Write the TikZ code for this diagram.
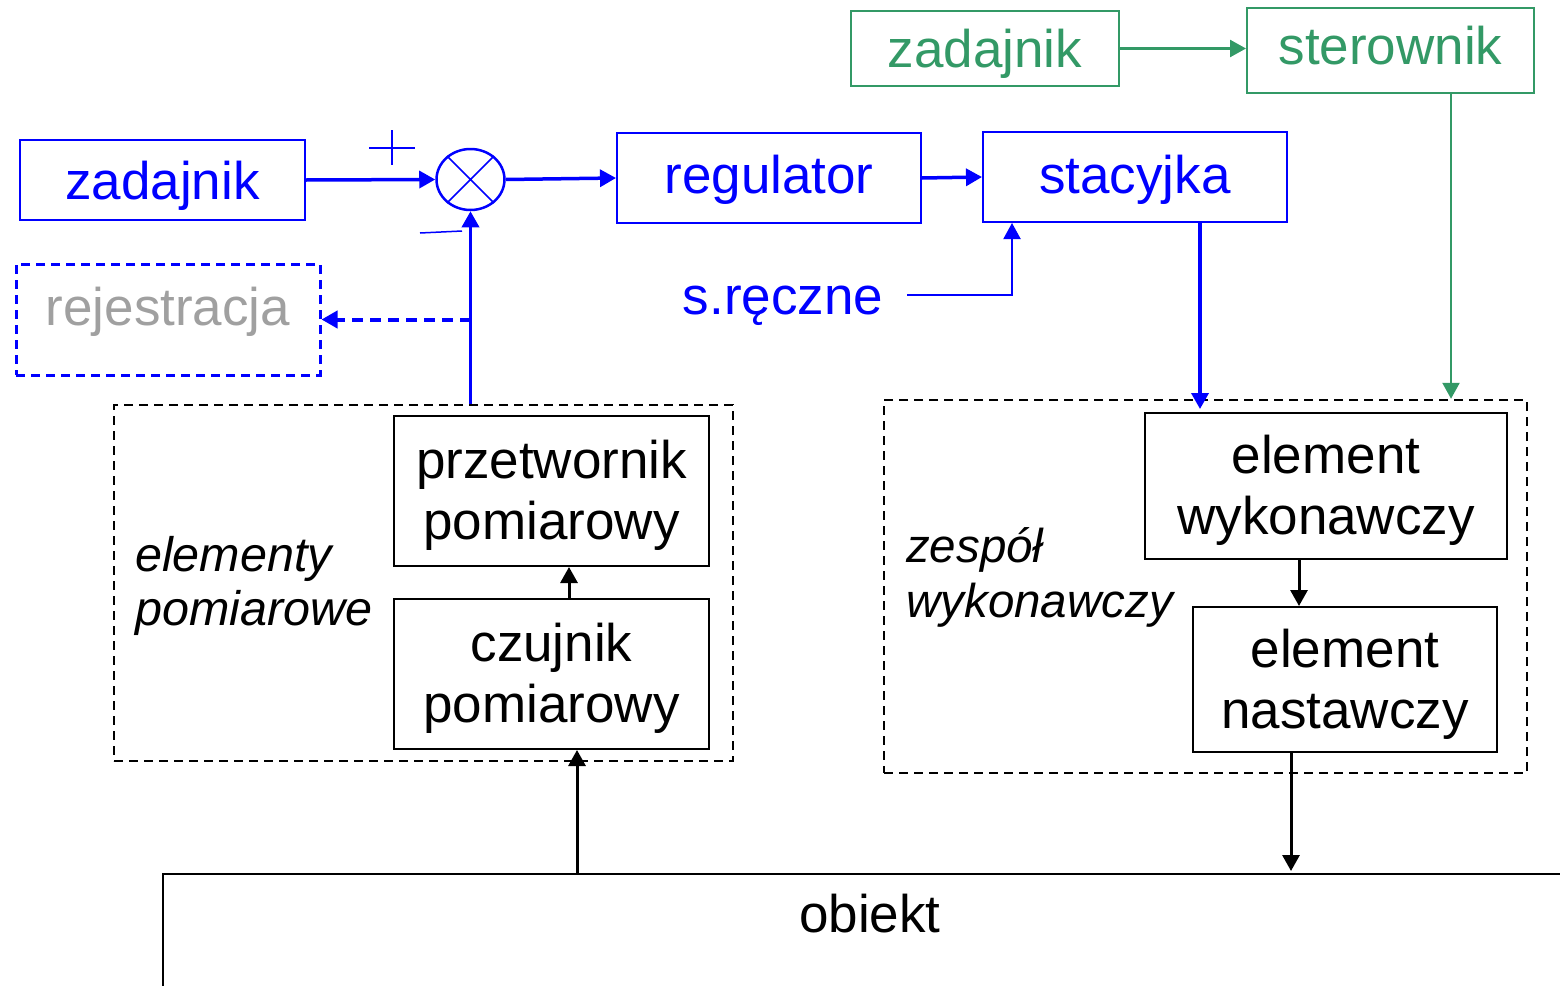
\documentclass[tikz,border=0pt]{standalone}
\usepackage{fontspec}
\setmainfont{Liberation Sans}
\usetikzlibrary{arrows.meta,shapes.geometric,calc}
\definecolor{cblue}{RGB}{0,0,255}
\definecolor{cgreen}{RGB}{51,153,102}
\definecolor{cgray}{RGB}{160,160,160}
% invisible strut that lowers the first line of a two-line label a little
\newcommand{\firststrut}{\rule{0pt}{47pt}}

\begin{document}
\begin{tikzpicture}[x=1pt,y=-1pt,
  every node/.style={font=\fontsize{53}{61}\selectfont, inner sep=0pt},
  box/.style={draw, rectangle, line width=2pt, align=center},
  bluebox/.style={box, draw=cblue, text=cblue},
  greenbox/.style={box, draw=cgreen, text=cgreen},
  groupbox/.style={draw, rectangle, line width=2.5pt, dash pattern=on 9pt off 6pt},
  italiclabel/.style={anchor=west, align=left, font=\fontsize{48.5}{54}\selectfont\itshape},
  tipped/.style={-{Triangle[length=16pt,width=17pt]}},
  bluearrow/.style={tipped, draw=cblue, line width=3.5pt},
  bluethin/.style={tipped, draw=cblue, line width=2pt},
  bluedashed/.style={tipped, draw=cblue, line width=4pt, dash pattern=on 11pt off 7pt},
  greenarrow/.style={tipped, draw=cgreen, line width=2.5pt},
  blackarrow/.style={tipped, draw=black, line width=3pt},
  signline/.style={draw=cblue, line width=1.5pt}
]
\useasboundingbox (0,0) rectangle (1560,985);
\clip (0,0) rectangle (1560,985);

% --- main control loop (blue) ---
\node[bluebox, minimum width=285pt, minimum height=80pt, text height=43.5pt, text depth=5.5pt] (zadB) at (162.5,180) {zadajnik};
\node[ellipse, draw=cblue, line width=2.5pt, minimum width=68pt, minimum height=61pt] (sum) at (470.5,179.5) {};
\draw[signline] (sum.135) -- (sum.-45) (sum.45) -- (sum.-135);
\node[bluebox, minimum width=304pt, minimum height=90pt, text height=39.5pt, text depth=9.5pt] (reg) at (769,178) {regulator};
\node[bluebox, minimum width=304pt, minimum height=90pt, text height=40.5pt, text depth=8.5pt] (stac) at (1135,177) {stacyjka};
\node[text=cblue] (reczne) at (783,306) {s.ręczne};
\coordinate (recznein) at (907,295);

% signs at the summing junction
\coordinate (plusc) at (392,148);
\draw[signline] ($(plusc)+(-23,0)$) -- ($(plusc)+(23,0)$);
\draw[signline] ($(plusc)+(0,-18)$) -- ($(plusc)+(0,17)$);
\coordinate (minusa) at (420,233);
\coordinate (minusb) at (462,231);
\draw[signline] (minusa) -- (minusb);

% recording (dashed)
\node[draw=cblue, rectangle, line width=3pt, dash pattern=on 9pt off 6pt,
      minimum width=304pt, minimum height=111pt] (rej) at (168,319.5) {};
\node[text=cgray] (rejtext) at (168,312) {rejestracja};

% --- measuring group ---
\node[groupbox, minimum width=619pt, minimum height=356pt] (meas) at (423.5,583) {};
\node[box, minimum width=315pt, minimum height=150pt] (prz) at (551.5,491) {\firststrut przetwornik\\pomiarowy};
\node[box, minimum width=315pt, minimum height=150pt] (czuj) at (551.5,674) {\firststrut czujnik\\pomiarowy};
\node[italiclabel] (measlabel) at (135,586) {elementy\\pomiarowe};

% --- actuating group ---
\node[groupbox, minimum width=643pt, minimum height=373pt] (zesp) at (1205.5,586.5) {};
\node[box, minimum width=362pt, minimum height=146pt] (ewyk) at (1326,486) {\firststrut element\\wykonawczy};
\node[box, minimum width=304pt, minimum height=145pt] (enast) at (1345,679.5) {\firststrut element\\nastawczy};
\node[italiclabel, font=\fontsize{47.5}{55}\selectfont\itshape] (zesplabel) at (906,577) {zespół\\wykonawczy};

% --- plant ---
\node[draw, rectangle, line width=2pt, minimum width=1537pt, minimum height=226pt] (obiekt) at (931.5,987) {};
\node (obiektlabel) at (870,914) {obiekt};

% --- supervisory level (green) ---
\node[greenbox, minimum width=268pt, minimum height=75pt, text height=43pt, text depth=6pt] (zadG) at (985,48.5) {zadajnik};
\node[greenbox, minimum width=287pt, minimum height=85pt, text height=38pt, text depth=11pt] (ster) at (1390.5,50.5) {sterownik};

% --- connectors ---
\draw[bluearrow] (zadB.east) -- (sum.west);
\draw[bluearrow] (sum.east) -- (reg.west);
\draw[bluearrow] (reg.east) -- (stac.west);
\draw[bluethin] (recznein) -| (stac.south -| 1012,0);
\draw[bluearrow] (meas.north -| sum.south) -- (sum.south);
\draw[bluedashed] (sum.south |- rej.east) -- (rej.east);
\coordinate (actin) at (1200,409);
\draw[bluearrow] (stac.south -| actin) -- (actin);

\draw[greenarrow] (zadG.east) -- (zadG.east -| ster.west);
\draw[greenarrow] (ster.south -| 1451,0) -- (zesp.north -| 1451,0);

\draw[blackarrow] (czuj.north -| 569,0) -- (prz.south -| 569,0);
\draw[blackarrow] (obiekt.north -| 577,0) -- (czuj.south -| 577,0);
\draw[blackarrow] (ewyk.south -| 1299,0) -- (enast.north -| 1299,0);
\draw[blackarrow] (enast.south -| 1291,0) -- ($(obiekt.north -| 1291,0)+(0,-2)$);
\end{tikzpicture}
\end{document}
